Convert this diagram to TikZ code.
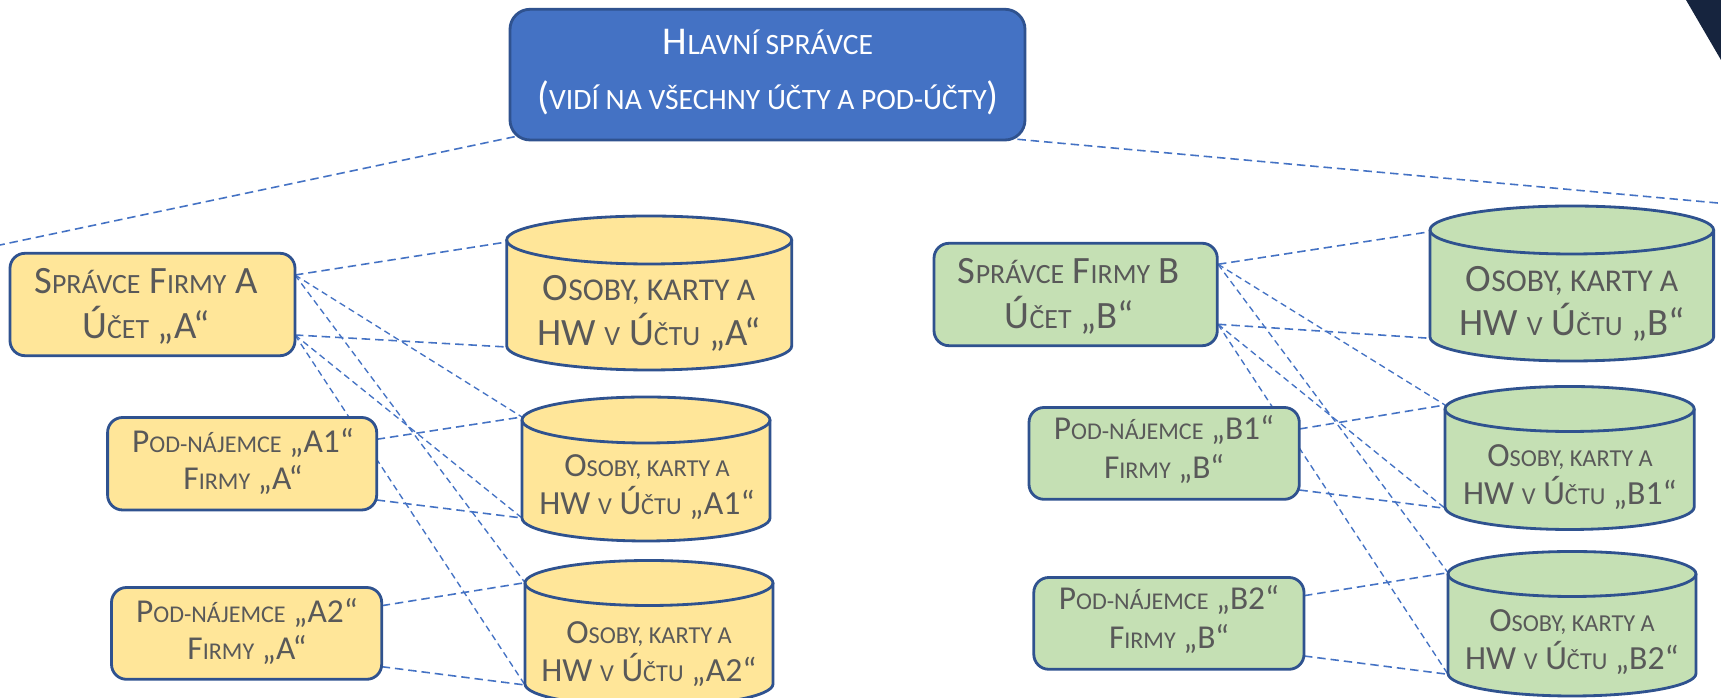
\documentclass[tikz,border=0pt]{standalone}
\usepackage{fontspec}
\setmainfont{Carlito}
\usetikzlibrary{fit}
\makeatletter
\newcommand\lw[2][0.72]{{\fontsize{\fpeval{#1*\f@size}}{1pt}\selectfont #2}}
\makeatother
\definecolor{yel}{HTML}{FFE699}
\definecolor{grn}{HTML}{C5E0B4}
\definecolor{bord}{HTML}{2F528F}
\definecolor{mainfill}{HTML}{4472C4}
\definecolor{lnc}{HTML}{4472C4}
\definecolor{txtgray}{HTML}{595959}
\definecolor{navy}{HTML}{16243E}
\newcommand\cylshape[7]{% cx, rx, ytop, ybot, ry, fill, name
  \fill[#6] (#1-#2,-#3) -- (#1-#2,-#4) arc[start angle=180,end angle=360,x radius=#2,y radius=#5]
     -- (#1+#2,-#3) arc[start angle=0,end angle=180,x radius=#2,y radius=#5] -- cycle;
  \draw[bord, line width=0.8pt] (#1-#2,-#3) -- (#1-#2,-#4) arc[start angle=180,end angle=360,x radius=#2,y radius=#5] -- (#1+#2,-#3);
  \draw[bord, line width=0.8pt] (#1,-#3) ellipse [x radius=#2, y radius=#5];
  \coordinate (#7-c) at (#1,-#3);
}
\begin{document}
\begin{tikzpicture}[x=0.01cm,y=0.01cm,
  rbox/.style={draw=bord, line width=0.8pt, rounded corners=1.5mm, inner sep=0pt},
  lbl/.style={anchor=base, inner sep=0pt, text=txtgray},
  conn/.style={draw=lnc, line width=0.45pt, dash pattern=on 2.4pt off 1.4pt},
  fan/.style={draw=lnc, line width=0.38pt, dash pattern=on 1.8pt off 1.2pt}]
\newcommand\fM{\fontsize{11.2}{13}\selectfont}
\newcommand\fS{\fontsize{11}{13}\selectfont}
\newcommand\fC{\fontsize{11}{13}\selectfont}
\newcommand\fc{\fontsize{9.6}{11}\selectfont}
\newcommand\fP{\fontsize{9.5}{11}\selectfont}
\useasboundingbox (0,0) rectangle (1721,-698);
\fill[white] (0,0) rectangle (1721,-698);
\fill[navy] (1686,0) -- (1721,0) -- (1721,-60) -- cycle;

% connection points
\coordinate (edgeL) at (0,-245);
\coordinate (edgeR) at (1721,-203.3);
\coordinate (mBL) at (514.7,-136.7);
\coordinate (mBR) at (1017.4,-139.3);
\coordinate (sAt) at (295,-275);   \coordinate (sAb) at (295,-335);
\coordinate (pA1t) at (376.7,-439.3); \coordinate (pA1b) at (376.7,-500);
\coordinate (pA2t) at (381.7,-605.7); \coordinate (pA2b) at (381.7,-666.7);
\coordinate (cAt) at (506.7,-242);  \coordinate (cAb) at (506.7,-347);
\coordinate (cA1t) at (522,-417);   \coordinate (cA1b) at (522,-518);
\coordinate (cA2t) at (525,-582.7); \coordinate (cA2b) at (525,-685);
\coordinate (sBt) at (1218,-264.3); \coordinate (sBb) at (1218,-324.3);
\coordinate (pB1t) at (1299.3,-429); \coordinate (pB1b) at (1299.3,-490);
\coordinate (pB2t) at (1304,-595.7); \coordinate (pB2b) at (1304,-656);
\coordinate (cBt) at (1430,-231.7); \coordinate (cBb) at (1430,-338.3);
\coordinate (cB1t) at (1445,-405);  \coordinate (cB1b) at (1445,-508.3);
\coordinate (cB2t) at (1448,-572.7); \coordinate (cB2b) at (1448,-674.3);

% connectors
\draw[conn] (mBL) -- (edgeL);
\draw[conn] (mBR) -- (edgeR);
\draw[conn] (sAt) -- (cAt);
\draw[conn] (sAb) -- (cAb);
\draw[fan] (sAt) -- (cA1t);
\draw[fan] (sAt) -- (cA2t);
\draw[fan] (sAb) -- (cA1b);
\draw[fan] (sAb) -- (cA2b);
\draw[conn] (pA1t) -- (cA1t);
\draw[conn] (pA1b) -- (cA1b);
\draw[conn] (pA2t) -- (cA2t);
\draw[conn] (pA2b) -- (cA2b);
\draw[conn] (sBt) -- (cBt);
\draw[conn] (sBb) -- (cBb);
\draw[fan] (sBt) -- (cB1t);
\draw[fan] (sBt) -- (cB2t);
\draw[fan] (sBb) -- (cB1b);
\draw[fan] (sBb) -- (cB2b);
\draw[conn] (pB1t) -- (cB1t);
\draw[conn] (pB1b) -- (cB1b);
\draw[conn] (pB2t) -- (cB2t);
\draw[conn] (pB2b) -- (cB2b);

% main box
\node[rbox, fill=mainfill, rounded corners=2mm, fit={(510,-9.3) (1025,-140)}] (main) {};
\node[lbl, text=white, font=\fM] (mainT1) at (768,-54.3) {H\lw[0.75]{LAVNÍ SPRÁVCE}};
\node[lbl, text=white, font=\fM] (mainT2) at (768,-110) {(\lw[0.75]{VIDÍ NA VŠECHNY ÚČTY A POD-ÚČTY})};

% A side boxes
\node[rbox, fill=yel, fit={(10,-253.3) (295,-355.7)}] (sA) {};
\node[lbl, font=\fS] (sAT1) at (146,-293.3) {S\lw{PRÁVCE} F\lw{IRMY} A};
\node[lbl, font=\fS] (sAT2) at (146,-338.3) {Ú\lw{ČET} „A“};
\node[rbox, fill=yel, fit={(107.6,-417.5) (376.7,-510)}] (pA1) {};
\node[lbl, font=\fP] (pA1T1) at (243,-452.7) {P\lw{OD-NÁJEMCE} „A1“};
\node[lbl, font=\fP] (pA1T2) at (243,-490) {F\lw{IRMY} „A“};
\node[rbox, fill=yel, fit={(111.5,-587.5) (381.7,-679.3)}] (pA2) {};
\node[lbl, font=\fP] (pA2T1) at (247,-622.3) {P\lw{OD-NÁJEMCE} „A2“};
\node[lbl, font=\fP] (pA2T2) at (247,-660) {F\lw{IRMY} „A“};

% A cylinders
\cylshape{649.2}{142.5}{240}{346}{24}{yel}{cA}
\node[lbl, font=\fC] (cAT1) at (649,-301) {O\lw[0.82]{SOBY, KARTY A}};
\node[lbl, font=\fC] (cAT2) at (649,-345.7) {HW \lw{V} Ú\lw{ČTU} „A“};
\cylshape{646}{124}{420}{518}{23}{yel}{cA1}
\node[lbl, font=\fc] (cA1T1) at (647,-476.7) {O\lw{SOBY, KARTY A}};
\node[lbl, font=\fc] (cA1T2) at (647,-515) {HW \lw{V} Ú\lw{ČTU} „A1“};
\cylshape{649}{124}{583}{684}{22.5}{yel}{cA2}
\node[lbl, font=\fc] (cA2T1) at (649,-643.3) {O\lw{SOBY, KARTY A}};
\node[lbl, font=\fc] (cA2T2) at (649,-681.7) {HW \lw{V} Ú\lw{ČTU} „A2“};

% B side boxes
\node[rbox, fill=grn, fit={(934,-243.3) (1217.3,-345.7)}] (sB) {};
\node[lbl, font=\fS] (sBT1) at (1069,-283.3) {S\lw{PRÁVCE} F\lw{IRMY} B};
\node[lbl, font=\fS] (sBT2) at (1069,-328.3) {Ú\lw{ČET} „B“};
\node[rbox, fill=grn, fit={(1029,-407.5) (1299.3,-499.3)}] (pB1) {};
\node[lbl, font=\fP] (pB1T1) at (1164,-440) {P\lw{OD-NÁJEMCE} „B1“};
\node[lbl, font=\fP] (pB1T2) at (1164,-478.3) {F\lw{IRMY} „B“};
\node[rbox, fill=grn, fit={(1033.8,-577.5) (1304,-669.3)}] (pB2) {};
\node[lbl, font=\fP] (pB2T1) at (1169,-610) {P\lw{OD-NÁJEMCE} „B2“};
\node[lbl, font=\fP] (pB2T2) at (1169,-648.3) {F\lw{IRMY} „B“};

% B cylinders
\cylshape{1571.8}{141.8}{230}{337}{24}{grn}{cB}
\node[lbl, font=\fC] (cBT1) at (1572,-291.7) {O\lw[0.82]{SOBY, KARTY A}};
\node[lbl, font=\fC] (cBT2) at (1572,-336) {HW \lw{V} Ú\lw{ČTU} „B“};
\cylshape{1569.6}{124.6}{409}{507}{22.5}{grn}{cB1}
\node[lbl, font=\fc] (cB1T1) at (1570,-466.7) {O\lw{SOBY, KARTY A}};
\node[lbl, font=\fc] (cB1T2) at (1570,-505) {HW \lw{V} Ú\lw{ČTU} „B1“};
\cylshape{1572}{124}{574}{673.5}{22.5}{grn}{cB2}
\node[lbl, font=\fc] (cB2T1) at (1572,-631.7) {O\lw{SOBY, KARTY A}};
\node[lbl, font=\fc] (cB2T2) at (1572,-670) {HW \lw{V} Ú\lw{ČTU} „B2“};
\end{tikzpicture}
\end{document}
